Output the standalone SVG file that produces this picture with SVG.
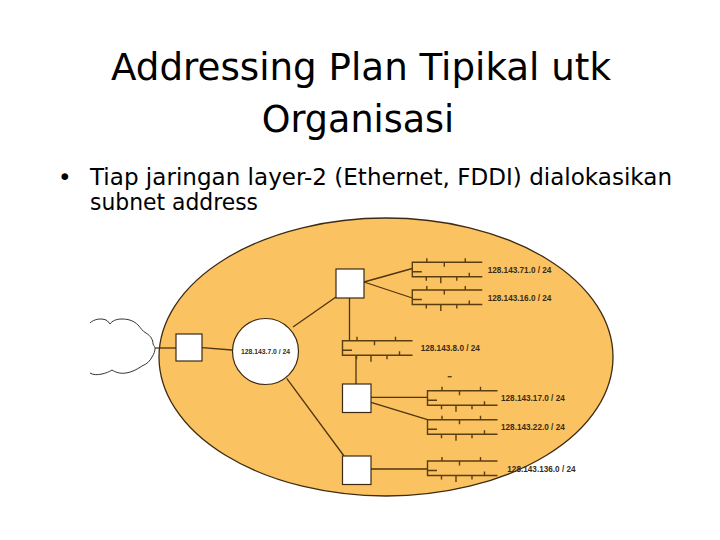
<svg xmlns="http://www.w3.org/2000/svg" xmlns:xlink="http://www.w3.org/1999/xlink" width="720" height="540" viewBox="0 0 720 540">
<style>
.title{font-family:"DejaVu Sans","Noto Sans",sans-serif;font-size:36.5px;fill:#000;text-anchor:middle}
.body{font-family:"DejaVu Sans","Noto Sans",sans-serif;font-size:23px;fill:#000}
.lbl{font-family:"Liberation Sans",Arial,sans-serif;font-weight:bold;font-size:8.2px;fill:#3a2c18}
.ln{stroke:#4e3510;stroke-width:1.3;fill:none}
.box{fill:#fff;stroke:#3a2a14;stroke-width:1.2}
.bus{stroke:#5a3e10;stroke-width:1.4;fill:none}
</style>
<defs>
<symbol id="busSym" overflow="visible">
<path class="bus" d="M70,0 H0 V14.5 H70 M0,9.5 H9.5 M14.5,0 V-4 M32,0 V4.5 M53,0 V-4 M14,14.5 V18.5 M28.5,14.5 V21 M44.5,14.5 V18.5 M57,14.5 V10.5"/>
</symbol>
</defs>
<rect width="720" height="540" fill="#fff"/>
<text class="title" x="361" y="80" textLength="500" lengthAdjust="spacingAndGlyphs">Addressing Plan Tipikal utk</text>
<text class="title" x="358" y="132">Organisasi</text>
<text class="body" x="58" y="185">•</text>
<text class="body" x="90" y="185" textLength="582" lengthAdjust="spacingAndGlyphs">Tiap jaringan layer-2 (Ethernet, FDDI) dialokasikan</text>
<text class="body" x="90" y="210" textLength="168" lengthAdjust="spacingAndGlyphs">subnet address</text>
<g id="campus">
<ellipse cx="386" cy="357" rx="227" ry="139" fill="#FAC260" stroke="#3d2c14" stroke-width="1.3"/>
</g>
<g id="internet">
<path d="M90,323 C94,319 101,318 106,320 C108,321 109,323 110,324 C112,321 116,319 122,319 C129,319 134,321 138,325 C141,328 142,331 146,333 C151,336 153,340 153,344 C154,346 155,347 155,348.5 C155,351 154,354 152,357 C150,361 147,364 142,366 C136,370 132,372 126,373 C120,374 115,372 112,370 C109,372 106,373 102,374 C97,375 93,375 90,373" fill="none" stroke="#333" stroke-width="1"/>
</g>
<g id="connectors">
<line class="ln" x1="155" y1="348" x2="176" y2="348"/>
<line class="ln" x1="202" y1="347.7" x2="232" y2="350"/>
<line class="ln" x1="293" y1="327" x2="336" y2="297"/>
<line class="ln" x1="364" y1="282" x2="412.3" y2="268.5"/>
<line class="ln" x1="364" y1="282" x2="412.3" y2="298"/>
<line class="ln" x1="349.5" y1="298" x2="349.5" y2="340.7"/>
<line class="ln" x1="356" y1="355.2" x2="356" y2="384"/>
<line class="ln" x1="371" y1="397.3" x2="427.5" y2="397.3"/>
<line class="ln" x1="371" y1="402.3" x2="427.5" y2="419.7"/>
<line class="ln" x1="286.7" y1="378.3" x2="344" y2="456"/>
<line class="ln" x1="371" y1="469" x2="427.5" y2="469"/>
<line class="ln" x1="447.7" y1="376.7" x2="451.7" y2="376.7"/>
</g>
<g id="routerA"><rect class="box" x="176" y="334" width="26" height="27"/></g>
<g id="routerB"><rect class="box" x="336" y="269" width="28" height="29"/></g>
<g id="routerC"><rect class="box" x="342.5" y="384" width="28.5" height="28.5"/></g>
<g id="routerD"><rect class="box" x="342.5" y="456" width="28.5" height="28.5"/></g>
<g id="backbone">
<circle cx="265.5" cy="351.5" r="33" fill="#fff" stroke="#3a2a14" stroke-width="1.2"/>
<text class="lbl" x="265.5" y="353.5" text-anchor="middle" style="font-size:6.8px">128.143.7.0 / 24</text>
</g>
<g id="net71"><use xlink:href="#busSym" x="412.3" y="262.3"/><text class="lbl" x="487.7" y="272.5">128.143.71.0 / 24</text></g>
<g id="net16"><use xlink:href="#busSym" x="412.3" y="290"/><text class="lbl" x="487.7" y="301">128.143.16.0 / 24</text></g>
<g id="net8"><use xlink:href="#busSym" x="342.5" y="340.7"/><text class="lbl" x="420.7" y="351">128.143.8.0 / 24</text></g>
<g id="net17"><use xlink:href="#busSym" x="427.5" y="390.7"/><text class="lbl" x="501" y="400.5">128.143.17.0 / 24</text></g>
<g id="net22"><use xlink:href="#busSym" x="427.5" y="419.7"/><text class="lbl" x="501" y="429.5">128.143.22.0 / 24</text></g>
<g id="net136"><use xlink:href="#busSym" x="427.5" y="461"/><text class="lbl" x="507.3" y="471.5">128.143.136.0 / 24</text></g>
</svg>
